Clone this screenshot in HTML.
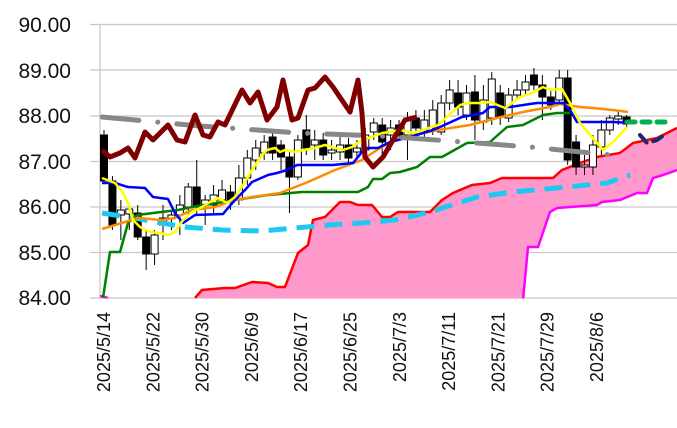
<!DOCTYPE html>
<html><head><meta charset="utf-8"><style>
html,body{margin:0;padding:0;background:#fff;}
svg{display:block;font-family:"Liberation Sans",sans-serif;}
</style></head><body>
<svg id="s" width="677" height="428" xmlns="http://www.w3.org/2000/svg">
<defs><clipPath id="c"><rect x="100" y="0" width="577" height="298.5"/></clipPath></defs>
<g stroke="#c8c8c8" stroke-width="1.3">
<line x1="90" y1="24.5" x2="677" y2="24.5"/><line x1="90" y1="70" x2="677" y2="70"/>
<line x1="90" y1="116" x2="677" y2="116"/><line x1="90" y1="161.5" x2="677" y2="161.5"/>
<line x1="90" y1="207" x2="677" y2="207"/><line x1="90" y1="252.5" x2="677" y2="252.5"/>
<line x1="90" y1="298" x2="677" y2="298"/><line x1="100" y1="24" x2="100" y2="298"/>
</g>
<g font-size="21" fill="#111" text-anchor="end">
<text x="71" y="32">90.00</text><text x="71" y="78">89.00</text><text x="71" y="123">88.00</text>
<text x="71" y="169">87.00</text><text x="71" y="214">86.00</text><text x="71" y="260">85.00</text>
<text x="71" y="305">84.00</text>
</g>
<g id="xl" font-size="18" fill="#111" text-anchor="end"></g>
<g clip-path="url(#c)" id="p"></g>
</svg>
<script>
const NS="http://www.w3.org/2000/svg",p=document.getElementById('p'),xl=document.getElementById('xl');
function el(t,a,par){const e=document.createElementNS(NS,t);for(const k in a)e.setAttribute(k,a[k]);(par||p).appendChild(e);return e;}
function pts(a){return a.map(q=>q.join(',')).join(' ');}
const labs=["2025/5/14","2025/5/22","2025/5/30","2025/6/9","2025/6/17","2025/6/25","2025/7/3","2025/7/11","2025/7/21","2025/7/29","2025/8/6"];
labs.forEach((l,i)=>{const x=110+i*49.3;const t=el('text',{x:0,y:0,transform:`translate(${x},312) rotate(-90)`},xl);t.textContent=l;});
const red=[[195,298],[202,290],[225,288],[235,288],[252,282],[268,283],[277,287],[285,287],[298,253],[308,245],[313,220],[325,217],[340,202],[350,202],[358,205],[372,205],[382,217],[390,217],[398,212],[430,212],[442,200],[453,193],[472,185],[490,183],[502,178],[553,178],[562,170],[580,163],[597,157],[620,153],[633,143],[657,138],[677,128]];
const mag=[[523,300],[528,247],[538,247],[550,212],[557,208],[597,205],[602,202],[620,200],[637,193],[647,193],[653,178],[663,175],[677,170]];
el('polygon',{points:pts(red.concat(mag.slice().reverse())),fill:'#ff99cc'});
el('polyline',{points:pts(red),fill:'none',stroke:'#ff0000','stroke-width':2.5});
el('polyline',{points:pts(mag),fill:'none',stroke:'#ff00ff','stroke-width':2.5});
el('polyline',{points:'100,296 108,298',fill:'none',stroke:'#ff00ff','stroke-width':2.5});
const C=[[135,181,1,130,181],[181,225,1,176,230],[210,215,0,200,240],[209,214,0,205,230],[213,237,1,205,240],[237,254,1,230,270],[235,254,0,230,265],[218,225,0,205,240],[215,218,0,210,230],[205,215,0,195,235],[187,207,0,183,215],[187,207,1,160,215],[200,205,0,195,225],[195,205,0,185,215],[190,200,0,180,205],[192,200,1,185,210],[178,200,0,165,205],[158,178,0,150,185],[148,160,0,140,170],[142,153,0,135,160],[137,153,1,130,160],[145,157,1,140,170],[157,177,1,150,213],[140,177,0,135,180],[130,148,1,115,155],[140,145,0,130,160],[140,155,1,133,160],[150,153,0,140,160],[145,152,0,135,160],[145,158,1,138,163],[148,152,0,140,160],[135,150,0,128,155],[123,132,0,118,140],[125,142,1,118,160],[128,135,0,120,150],[125,135,1,120,140],[118,135,0,112,160],[118,128,1,110,135],[120,130,0,110,140],[110,128,0,100,135],[103,132,0,95,135],[90,103,0,80,110],[93,107,1,80,115],[93,115,0,85,120],[92,120,1,75,140],[100,122,0,85,130],[79,118,0,72,125],[93,117,1,85,125],[95,118,0,88,122],[90,95,0,80,100],[82,90,0,75,95],[75,85,1,68,90],[85,97,1,75,120],[97,105,1,90,110],[78,100,0,70,105],[78,160,1,70,165],[142,167,1,135,175],[165,167,0,155,175],[145,167,0,135,175],[130,147,0,120,155],[118,130,0,115,135],[116,119,0,112,125],[117,124,1,115,128]];
C.forEach((c,i)=>{const x=104+i*8.43;
el('line',{x1:x,y1:c[3],x2:x,y2:c[4],stroke:'#000','stroke-width':1});
el('rect',{x:x-3.5,y:c[0],width:7,height:Math.max(1,c[1]-c[0]),fill:c[2]?'#000':'#fff',stroke:'#000','stroke-width':1});});
function L(a,col,w,extra){const o={points:pts(a),fill:'none',stroke:col,'stroke-width':w,'stroke-linejoin':'round'};Object.assign(o,extra||{});el('polyline',o);}
L([[102,213],[128,217],[162,223],[185,227],[222,230],[262,231],[295,228],[328,225],[362,223],[395,220],[430,212],[477,197],[513,192],[567,187],[607,183],[630,175]],'#1ec8f0',5,{'stroke-dasharray':'18 10'});
L([[103,298],[110,252],[120,252],[128,223],[137,215],[178,210],[192,207],[248,198],[268,195],[302,192],[358,192],[368,187],[373,179],[382,179],[390,173],[400,172],[417,167],[430,157],[442,157],[467,143],[490,142],[507,127],[523,125],[543,115],[557,113],[570,113]],'#008000',2.5);
L([[102,229],[138,218],[162,220],[175,218],[192,210],[215,207],[235,200],[252,197],[280,193],[308,182],[335,170],[362,160],[380,148],[400,138],[438,130],[470,125],[497,118],[523,112],[550,107],[560,104],[580,107],[593,108],[613,110],[628,112]],'#ff8c00',2.5);
L([[102,183],[115,183],[128,187],[145,188],[153,197],[168,199],[175,213],[183,223],[195,215],[223,214],[228,208],[235,200],[245,190],[252,182],[268,175],[277,173],[287,170],[297,165],[333,165],[353,163],[358,157],[365,148],[378,148],[390,142],[410,137],[433,130],[440,127],[462,117],[473,115],[483,113],[490,107],[510,107],[530,104],[537,103],[563,103],[570,110],[577,122],[613,122],[633,123]],'#0000ff',2.5);
L([[102,178],[115,183],[123,193],[128,203],[133,220],[140,227],[150,232],[160,233],[168,235],[175,232],[183,220],[192,212],[202,207],[210,202],[218,198],[227,203],[235,197],[243,185],[252,170],[262,155],[267,150],[275,148],[280,152],[285,150],[295,152],[303,150],[315,148],[325,145],[335,148],[343,150],[352,147],[362,140],[372,137],[382,133],[390,132],[400,130],[413,133],[423,130],[438,125],[447,117],[460,105],[470,103],[480,103],[490,102],[505,108],[520,97],[532,93],[543,87],[550,90],[562,89],[570,103],[580,123],[592,137],[603,150],[613,142],[627,127]],'#ffff00',2.5);
L([[102,117],[200,126],[300,133],[380,136],[450,141],[530,147],[612,155]],'#888888',5,{'stroke-dasharray':'37 19 0.1 19','stroke-linecap':'round'});
L([[102,150],[110,157],[120,153],[128,148],[135,158],[145,132],[153,140],[168,125],[177,140],[185,142],[195,115],[203,135],[210,137],[218,122],[225,125],[242,90],[250,103],[258,92],[267,120],[277,107],[283,80],[292,120],[298,118],[308,90],[315,88],[325,77],[333,87],[350,112],[358,80],[362,113],[365,157],[373,167],[383,157],[393,140],[405,120],[417,117]],'#800000',5);
L([[640,135],[647,143],[657,140],[667,133]],'#1a2a6c',4,{'stroke-dasharray':'10 7','stroke-linecap':'round'});
L([[627,122],[672,122]],'#00b050',5,{'stroke-dasharray':'8 7','stroke-linecap':'round'});
</script>
</body></html>
